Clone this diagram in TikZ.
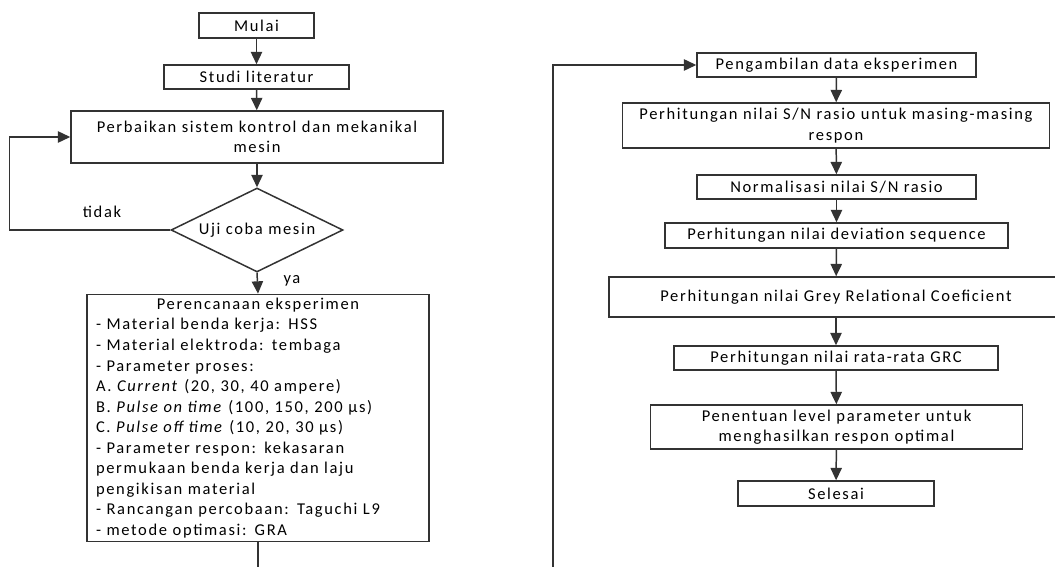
\documentclass[tikz,border=0pt]{standalone}
\usepackage{fontspec}
\setmainfont{Carlito}[LetterSpace=10]
\usetikzlibrary{arrows.meta,shapes.geometric}

\begin{document}
\begin{tikzpicture}[
  x=0.02cm,y=-0.02cm,
  font=\fontsize{9.4}{11.7}\selectfont,
  proses/.style={draw=black!80,line width=0.85pt,inner sep=2pt,align=center},
  keputusan/.style={draw=black!80,line width=0.85pt,diamond,aspect=2,inner sep=0pt,
    minimum width=3.44cm,minimum height=1.68cm},
  alur/.style={draw=black!80,line width=0.85pt,-{Triangle[width=6.4pt,length=7pt]}}
]
  \useasboundingbox (0,0) rectangle (1055,567);

  % kolom kiri
  \node[proses,minimum width=2.3cm,minimum height=0.5cm] (mulai) at (256.5,25.5) {Mulai};
  \node[proses,minimum width=3.7cm,minimum height=0.48cm] (studi) at (256.5,77) {Studi literatur};
  \node[proses,minimum width=7.4cm,minimum height=1.04cm,text width=7.3cm] (perbaikan) at (257,137)
    {Perbaikan sistem kontrol dan mekanikal\\mesin};
  \node[keputusan] (uji) at (257,230) {Uji coba mesin};
  \node[proses,minimum width=6.84cm,minimum height=4.88cm,text width=6.48cm,
    inner xsep=0.18cm,align=left] (rencana) at (258,418)
    {\centerline{Perencanaan eksperimen}
     - Material benda kerja: HSS\\
     - Material elektroda: tembaga\\
     - Parameter proses:\\
     A. \textit{Current} (20, 30, 40 ampere)\\
     B. \textit{Pulse on time} (100, 150, 200 µs)\\
     C. \textit{Pulse off time} (10, 20, 30 µs)\\
     - Parameter respon: kekasaran\\
     permukaan benda kerja dan laju\\
     pengikisan material\\
     - Rancangan percobaan: Taguchi L9\\
     - metode optimasi: GRA};

  % kolom kanan
  \node[proses,minimum width=5.58cm,minimum height=0.48cm] (ambil) at (836.5,65) {Pengambilan data eksperimen};
  \node[proses,minimum width=8.48cm,minimum height=0.9cm,text width=8.4cm] (snr) at (836,125.5)
    {Perhitungan nilai S/N rasio untuk masing-masing\\respon};
  \node[proses,minimum width=5.58cm,minimum height=0.48cm] (normal) at (836.5,187) {Normalisasi nilai S/N rasio};
  \node[proses,minimum width=6.86cm,minimum height=0.5cm] (deviasi) at (836.5,235.5) {Perhitungan nilai deviation sequence};
  \node[proses,minimum width=9.08cm,minimum height=0.8cm] (grc) at (836,297) {Perhitungan nilai Grey Relational Coeficient};
  \node[proses,minimum width=6.48cm,minimum height=0.48cm] (ratarata) at (836,358) {Perhitungan nilai rata-rata GRC};
  \node[proses,minimum width=7.42cm,minimum height=0.88cm,text width=7.3cm] (penentuan) at (836.5,427)
    {Penentuan level parameter untuk\\menghasilkan respon optimal};
  \node[proses,minimum width=3.92cm,minimum height=0.5cm] (selesai) at (836,493.5) {Selesai};

  \node (tidak) at (102,212) {tidak};
  \node (ya) at (292,281) {ya};

  \coordinate (kiri) at (9.5,230);
  \coordinate (bawahkiri) at (258,567);
  \coordinate (bawahkanan) at (553,567);

  \draw[alur] (mulai) -- (studi);
  \draw[alur] (studi) -- (perbaikan);
  \draw[alur] (perbaikan) -- (uji);
  \draw[alur] (uji.south) -- (rencana.north);
  \draw[alur] (uji.west) -- (kiri) |- (perbaikan.west);
  \draw[draw=black!80,line width=0.85pt] (rencana.south) -- (bawahkiri);
  \draw[alur] (bawahkanan) |- (ambil.west);
  \draw[alur] (ambil) -- (snr);
  \draw[alur] (snr) -- (normal);
  \draw[alur] (normal) -- (deviasi);
  \draw[alur] (deviasi) -- (grc);
  \draw[alur] (grc) -- (ratarata);
  \draw[alur] (ratarata) -- (penentuan);
  \draw[alur] (penentuan) -- (selesai);
\end{tikzpicture}
\end{document}
